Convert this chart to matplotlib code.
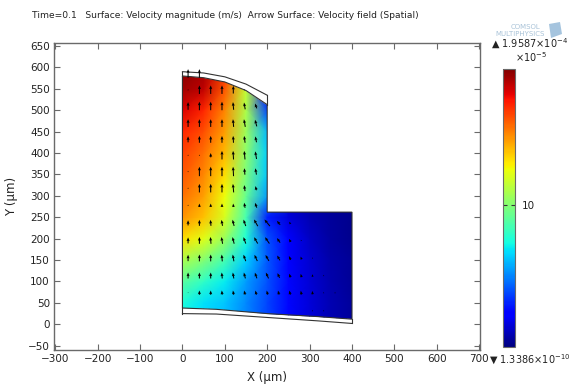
import numpy as np
import matplotlib
matplotlib.use("Agg")
import matplotlib.pyplot as plt
from matplotlib.patches import Polygon
from matplotlib.colors import Normalize
import matplotlib.cm as cm

# ---------------- data ----------------
title = "Time=0.1   Surface: Velocity magnitude (m/s)  Arrow Surface: Velocity field (Spatial)"
vmax_label = "1.9587"
vmin_label = "1.3386"
vmax = 19.587          # x1e-5 m/s
cbar_ticks = [10]

# geometry (µm)
top_x = [0, 50, 100, 150, 200]
outer_top_y = [590, 587, 578, 561, 535]
inner_top_y = [580, 576, 566, 546, 513]
bot_x = [0, 80, 200, 320, 400]
inner_bot_y = [38, 35, 25, 18, 12]
outer_bot_y = [25, 24, 16, 8, 2]
step_x = 200
step_y = 262
right_x = 400

# velocity magnitude samples (x1e-5 m/s)
grid_x = [0, 50, 100, 150, 200, 250, 300, 350, 400]
grid_y = [0, 50, 100, 150, 200, 250, 300, 350, 400, 450, 500, 550, 600]
speed = [
    [7.2, 6.6, 6.0, 5.0, 3.8, 2.6, 1.6, 0.9, 0.5],
    [7.5, 6.8, 6.2, 5.1, 3.8, 2.6, 1.6, 0.9, 0.5],
    [9.0, 8.0, 7.0, 5.5, 4.0, 2.6, 1.5, 0.8, 0.4],
    [11.0, 10.0, 8.5, 6.5, 4.2, 2.5, 1.4, 0.7, 0.4],
    [13.2, 12.2, 10.5, 7.6, 4.0, 2.2, 1.2, 0.6, 0.3],
    [14.8, 13.8, 12.0, 8.5, 3.0, 1.6, 0.9, 0.5, 0.3],
    [15.5, 14.5, 12.5, 9.3, 5.5, 1.4, 0.8, 0.5, 0.3],
    [16.0, 15.0, 13.2, 9.8, 6.3, 1.4, 0.8, 0.5, 0.3],
    [16.5, 15.5, 14.0, 10.2, 6.5, 1.4, 0.8, 0.5, 0.3],
    [17.0, 16.2, 14.5, 10.6, 6.0, 1.4, 0.8, 0.5, 0.3],
    [18.0, 17.0, 15.0, 11.0, 3.8, 1.4, 0.8, 0.5, 0.3],
    [19.0, 18.5, 16.0, 11.5, 2.5, 1.4, 0.8, 0.5, 0.3],
    [19.5, 19.0, 17.0, 12.0, 2.0, 1.4, 0.8, 0.5, 0.3],
]

# arrow grid (µm), arrow lengths (µm on screen) and tilt to the left (deg)
arrow_x = [13.3, 40.0, 66.7, 93.3, 120.0, 146.7, 173.3, 200.0,
           226.7, 253.3, 280.0, 306.7, 333.3, 360.0, 386.7]
arrow_y = [32, 74, 114, 155, 196, 237, 278, 318, 357, 395, 432, 470, 510, 548, 586]
arrow_len = [
    [0, 0, 0, 0, 0, 0, 0, 0, 0, 0, 0, 3, 3, 0, 0],
    [2, 10, 10, 10, 10, 10, 10, 10, 10, 10, 9, 8, 3, 3, 0],
    [14, 14, 14, 14, 14, 14, 14, 15, 12, 9, 8, 6, 3, 0, 0],
    [15, 16, 16, 16, 16, 16, 16, 16, 13, 10, 7, 3, 0, 0, 0],
    [14, 16, 16, 16, 16, 16, 17, 18, 13, 8, 3, 0, 0, 0, 0],
    [12, 14, 14, 14, 15, 16, 18, 20, 12, 6, 0, 0, 0, 0, 0],
    [3, 8, 8, 8, 8, 12, 12, 0, 0, 0, 0, 0, 0, 0, 0],
    [3, 20, 20, 20, 20, 14, 10, 0, 0, 0, 0, 0, 0, 0, 0],
    [3, 22, 22, 22, 22, 15, 15, 0, 0, 0, 0, 0, 0, 0, 0],
    [3, 3, 10, 20, 20, 20, 18, 0, 0, 0, 0, 0, 0, 0, 0],
    [14, 16, 16, 16, 16, 16, 14, 0, 0, 0, 0, 0, 0, 0, 0],
    [18, 18, 18, 18, 18, 18, 16, 0, 0, 0, 0, 0, 0, 0, 0],
    [18, 20, 20, 20, 18, 16, 12, 0, 0, 0, 0, 0, 0, 0, 0],
    [3, 20, 20, 20, 18, 3, 0, 0, 0, 0, 0, 0, 0, 0, 0],
    [20, 20, 0, 0, 0, 0, 0, 0, 0, 0, 0, 0, 0, 0, 0],
]
arrow_tilt = [
    [0, 0, 0, 0, 0, 0, 0, 0, 0, 0, 0, 0, 0, 0, 0],
    [0, 0, 0, 5, 10, 15, 15, 15, 15, 15, 10, 5, 0, 0, 0],
    [0, 0, 0, 5, 10, 15, 20, 25, 25, 20, 15, 10, 0, 0, 0],
    [0, 0, 0, 5, 10, 20, 25, 30, 30, 25, 20, 10, 0, 0, 0],
    [0, 0, 5, 10, 15, 20, 30, 35, 35, 30, 20, 0, 0, 0, 0],
    [0, 0, 5, 10, 15, 20, 30, 40, 40, 30, 0, 0, 0, 0, 0],
    [0, 0, 0, 0, 5, 10, 20, 0, 0, 0, 0, 0, 0, 0, 0],
    [0, 0, 0, 0, 5, 8, 15, 0, 0, 0, 0, 0, 0, 0, 0],
    [0, 0, 0, 0, 3, 5, 10, 0, 0, 0, 0, 0, 0, 0, 0],
    [0, 0, 0, 0, 3, 5, 10, 0, 0, 0, 0, 0, 0, 0, 0],
    [0, 0, 0, 0, 3, 8, 12, 0, 0, 0, 0, 0, 0, 0, 0],
    [0, 0, 0, 0, 5, 10, 15, 0, 0, 0, 0, 0, 0, 0, 0],
    [0, 0, 0, 0, 5, 10, 20, 0, 0, 0, 0, 0, 0, 0, 0],
    [0, 0, 0, 0, 0, 0, 0, 0, 0, 0, 0, 0, 0, 0, 0],
    [0, 0, 0, 0, 0, 0, 0, 0, 0, 0, 0, 0, 0, 0, 0],
]

x_ticks = list(range(-300, 701, 100))
y_ticks = list(range(-50, 651, 50))

# ---------------- figure ----------------
W, H = 573, 391
fig = plt.figure(figsize=(W / 100, H / 100), dpi=100)
ax = fig.add_axes([54 / W, 1 - 350 / H, 426 / W, 307 / H])
ax.set_xlim(-303, 702)
ax.set_ylim(-60, 657)

edge = "#6a6a6a"
txt = "#222222"

# colour field
GX, GY = np.meshgrid(np.array(grid_x, float), np.array(grid_y, float))
S = np.array(speed, float)
norm = Normalize(vmin=0, vmax=vmax)
cmap = matplotlib.colormaps["jet"]
mesh = ax.pcolormesh(GX, GY, S, shading="gouraud", cmap=cmap, norm=norm, zorder=1)

dom = ([(x, y) for x, y in zip(bot_x, inner_bot_y)]
       + [(right_x, step_y), (step_x, step_y)]
       + [(x, y) for x, y in zip(top_x[::-1], inner_top_y[::-1])])
clip = Polygon(dom, closed=True, transform=ax.transData, facecolor="none", edgecolor="none")
ax.add_patch(clip)
mesh.set_clip_path(clip)

# outlines
lc = "#333333"
lw = 0.8
ax.add_patch(Polygon(dom, closed=True, facecolor="none", edgecolor=lc, lw=lw, zorder=3))
ax.plot(top_x, outer_top_y, color=lc, lw=lw, zorder=3)
ax.plot([top_x[0]] * 2, [inner_top_y[0], outer_top_y[0]], color=lc, lw=lw, zorder=3)
ax.plot([top_x[-1]] * 2, [inner_top_y[-1], outer_top_y[-1]], color=lc, lw=lw, zorder=3)
ax.plot(bot_x, outer_bot_y, color=lc, lw=lw, zorder=3)
ax.plot([bot_x[0]] * 2, [inner_bot_y[0], outer_bot_y[0]], color=lc, lw=lw, zorder=3)
ax.plot([bot_x[-1]] * 2, [inner_bot_y[-1], outer_bot_y[-1]], color=lc, lw=lw, zorder=3)

# arrows
AX, AY = np.meshgrid(np.array(arrow_x), np.array(arrow_y))
L = np.array(arrow_len, float)
T = np.radians(np.array(arrow_tilt, float))
U = -L * np.sin(T)
V = L * np.cos(T)
m = L > 0
ax.quiver(AX[m], AY[m], U[m], V[m], angles="xy", scale_units="xy", scale=1,
          pivot="mid", color="black", width=0.0024, headwidth=3.0,
          headlength=3.6, headaxislength=3.2, minlength=0.8, zorder=4)

# axes styling
ax.set_xticks(x_ticks)
ax.set_yticks(y_ticks)
ax.tick_params(axis="both", direction="in", length=4, width=0.8, color=edge,
               labelsize=7.5, labelcolor=txt, top=True, right=True, pad=3)
for s in ax.spines.values():
    s.set_color(edge)
    s.set_linewidth(1.0)
ax.set_xlabel("X (µm)", fontsize=8.5, color=txt, labelpad=5)
ax.set_ylabel("Y (µm)", fontsize=8.5, color=txt, labelpad=7)

# colour bar
cax = fig.add_axes([503 / W, 1 - 347 / H, 12 / W, 278 / H])
sm = cm.ScalarMappable(norm=norm, cmap=cmap)
cb = fig.colorbar(sm, cax=cax, ticks=cbar_ticks)
cb.ax.set_yticklabels([str(t) for t in cbar_ticks])
cb.outline.set_edgecolor(edge)
cb.outline.set_linewidth(0.8)
cax.tick_params(axis="y", direction="in", length=3, width=0.8, color="#333333",
                left=True, right=True, labelsize=7.5, labelcolor=txt, pad=5)

fig.text(491 / W, 1 - 44 / H, "▲ " + vmax_label + "×10$^{-4}$", fontsize=7,
         color=txt, ha="left", va="center")
fig.text(515 / W, 1 - 57 / H, "×10$^{-5}$", fontsize=7, color=txt, ha="left", va="center")
fig.text(489 / W, 1 - 360 / H, "▼ " + vmin_label + "×10$^{-10}$", fontsize=7,
         color=txt, ha="left", va="center")

# title
fig.text(32 / W, 1 - 16 / H, title, fontsize=6.6, color=txt, ha="left", va="center")

# faint logo
fig.text(540 / W, 1 - 27 / H, "COMSOL", fontsize=5, color="#a9c3d8", ha="right", va="center")
fig.text(545 / W, 1 - 34 / H, "MULTIPHYSICS", fontsize=5, color="#a9c3d8", ha="right", va="center")
fig.patches.append(Polygon([(549 / W, 1 - 24 / H), (560 / W, 1 - 22 / H), (562 / W, 1 - 34 / H),
                            (551 / W, 1 - 38 / H)], closed=True, transform=fig.transFigure,
                           facecolor="#8fb6d6", edgecolor="none", alpha=0.8))

fig.savefig("out.png", dpi=100)
